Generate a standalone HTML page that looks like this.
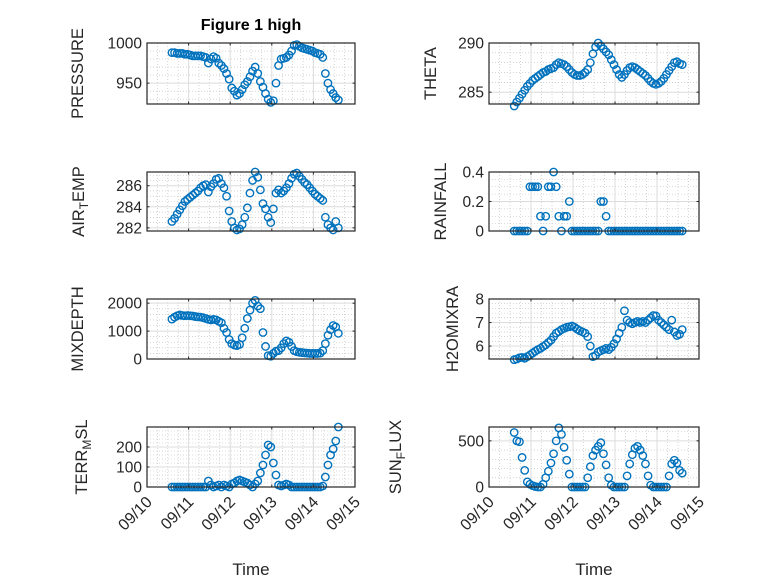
<!DOCTYPE html>
<html><head><meta charset="utf-8"><style>
body{margin:0;background:#fff}
svg{font-family:"Liberation Sans",sans-serif;display:block}
</style></head><body>
<svg id="fig" width="778" height="583" viewBox="0 0 778 583" xmlns="http://www.w3.org/2000/svg">
<rect width="778" height="583" fill="#fff"/>
<text x="251" y="30" text-anchor="middle" font-size="16" font-weight="bold" fill="#000">Figure 1 high</text>
</svg>
<script>
const tStart = 10.6;
const tStep = 0.0625;
const xTickLabels = ["09/10","09/11","09/12","09/13","09/14","09/15"];
const pressure = [988,988,987,987,987,986,986,985,984,984,984,984,983,982,975,980,983,981,975,972,968,962,955,944,940,935,937,942,948,952,958,965,970,962,952,945,937,930,926,928,950,972,980,981,982,985,990,997,998,996,994,993,992,991,990,988,987,986,982,962,950,942,937,932,929];
const airTemp = [282.6,282.9,283.3,283.7,284.1,284.5,284.7,284.9,285.1,285.3,285.5,285.8,286.0,286.1,285.4,285.9,286.2,286.6,286.7,286.2,285.8,285.0,283.6,282.6,282.0,281.8,281.9,282.3,283.0,283.9,285.3,286.5,287.3,286.8,285.6,284.3,283.8,283.0,282.5,283.8,285.3,285.6,285.3,285.5,285.8,286.2,286.7,287.1,287.2,286.9,286.6,286.3,286.1,285.8,285.5,285.2,285.0,284.8,284.6,283.0,282.3,282.0,281.8,282.6,282.0];
const mixDepth = [1430,1500,1550,1580,1560,1550,1560,1550,1540,1520,1510,1500,1480,1450,1420,1400,1420,1400,1350,1300,1100,950,700,550,500,480,520,760,1100,1450,1750,2000,2100,1900,1800,950,450,120,100,200,280,300,400,550,650,600,450,300,260,240,230,220,210,200,200,200,200,210,300,550,850,1050,1200,1150,920];
const terrMsl = [0,0,0,0,0,0,0,0,0,0,0,0,0,0,30,10,0,5,10,0,10,5,0,15,20,30,35,30,25,20,10,0,15,30,70,110,160,210,200,120,60,10,5,10,15,10,0,0,0,0,0,0,0,0,0,0,0,0,5,50,110,160,190,230,300];
const theta = [283.6,284.0,284.4,284.8,285.2,285.6,285.9,286.2,286.4,286.6,286.8,287.0,287.1,287.3,287.4,287.5,287.8,288.0,287.9,287.8,287.6,287.3,287.0,286.8,286.7,286.7,286.8,287.0,287.3,288.0,288.9,289.6,290.0,289.7,289.4,289.1,288.8,288.3,287.8,287.3,286.8,286.5,286.8,287.2,287.5,287.6,287.5,287.3,287.1,286.9,286.7,286.4,286.1,285.9,285.8,285.9,286.1,286.4,286.8,287.2,287.6,288.0,288.1,287.9,287.8];
const rainfall = [0,0,0,0,0,0,0.3,0.3,0.3,0.3,0.1,0,0.1,0.3,0.3,0.4,0.3,0.1,0,0.1,0.1,0.2,0,0,0,0,0,0,0,0,0,0,0,0.2,0.2,0.1,0,0,0,0,0,0,0,0,0,0,0,0,0,0,0,0,0,0,0,0,0,0,0,0,0,0,0,0,0];
const h2oMix = [5.42,5.45,5.5,5.52,5.48,5.55,5.62,5.7,5.78,5.85,5.9,5.98,6.05,6.15,6.25,6.4,6.55,6.62,6.7,6.75,6.8,6.82,6.85,6.8,6.72,6.65,6.6,6.55,6.4,6.0,5.55,5.6,5.75,5.8,5.85,5.9,5.85,5.95,6.1,6.3,6.55,6.8,7.5,7.1,7.0,6.95,7.0,7.05,7.0,7.05,7.0,7.1,7.2,7.3,7.28,7.1,7.0,6.9,6.8,6.7,7.1,6.6,6.45,6.5,6.7];
const sunFlux = [590,500,490,320,180,55,30,15,5,0,0,30,100,170,260,360,500,640,570,430,290,140,0,0,0,0,0,0,100,220,340,400,440,480,360,240,100,20,0,0,0,0,0,120,250,350,420,440,400,340,250,120,20,0,0,0,0,0,0,120,250,290,260,180,150];

const NS="http://www.w3.org/2000/svg";
const svg=document.getElementById('fig');
function mk(tag,attrs,parent){const e=document.createElementNS(NS,tag);for(const k in attrs)e.setAttribute(k,attrs[k]);(parent||svg).appendChild(e);return e;}

const panels=[
 {name:'pressure',data:pressure,x:147,y:43,w:208,h:61,ymin:924,ymax:1000,ticks:[950,1000],minor:10,label:['PRESSURE'],lx:78,last:false},
 {name:'theta',data:theta,x:489,y:43,w:210,h:61,ymin:283.8,ymax:290,ticks:[285,290],minor:1,label:['THETA'],lx:431,last:false},
 {name:'air-temp',data:airTemp,x:147,y:172,w:208,h:59,ymin:281.7,ymax:287.3,ticks:[282,284,286],minor:0.5,label:['AIR','T','EMP'],lx:79,last:false},
 {name:'rainfall',data:rainfall,x:489,y:172,w:210,h:59,ymin:0,ymax:0.4,ticks:[0,0.2,0.4],minor:0.05,label:['RAINFALL'],lx:441,last:false},
 {name:'mixdepth',data:mixDepth,x:147,y:299,w:208,h:60,ymin:0,ymax:2150,ticks:[0,1000,2000],minor:200,label:['MIXDEPTH'],lx:78,last:false},
 {name:'h2omixra',data:h2oMix,x:489,y:299,w:210,h:60,ymin:5.45,ymax:8,ticks:[6,7,8],minor:0.2,label:['H2OMIXRA'],lx:453,last:false},
 {name:'terr-msl',data:terrMsl,x:147,y:427,w:208,h:60,ymin:0,ymax:300,ticks:[0,100,200],minor:20,label:['TERR','M','SL'],lx:82,last:true},
 {name:'sun-flux',data:sunFlux,x:489,y:427,w:210,h:60,ymin:0,ymax:650,ticks:[0,500],minor:100,label:['SUN','F','LUX'],lx:396,last:true}
];

panels.forEach(p=>{
  const g=mk('g',{});
  
  
  const xs=d=>p.x+(d-10)/5*p.w;
  const ys=v=>p.y+p.h-(v-p.ymin)/(p.ymax-p.ymin)*p.h;
  mk('rect',{x:p.x,y:p.y,width:p.w,height:p.h,fill:'#fff'},g);
  for(let d=10;d<=15.001;d+=0.25){ if(Math.abs(d-Math.round(d))<1e-6)continue;
    mk('line',{x1:xs(d),x2:xs(d),y1:p.y,y2:p.y+p.h,stroke:'#bbb','stroke-width':0.6,'stroke-dasharray':'1,2'},g);}
  const start=Math.ceil(p.ymin/p.minor)*p.minor;
  for(let v=start;v<=p.ymax+1e-9;v+=p.minor){
    if(p.ticks.some(t=>Math.abs(t-v)<1e-6))continue;
    mk('line',{x1:p.x,x2:p.x+p.w,y1:ys(v),y2:ys(v),stroke:'#bbb','stroke-width':0.6,'stroke-dasharray':'1,2'},g);}
  for(let i=0;i<xTickLabels.length;i++){const d=10+i;
    mk('line',{x1:xs(d),x2:xs(d),y1:p.y,y2:p.y+p.h,stroke:'#dcdcdc','stroke-width':1},g);}
  p.ticks.forEach(v=>mk('line',{x1:p.x,x2:p.x+p.w,y1:ys(v),y2:ys(v),stroke:'#dcdcdc','stroke-width':1},g));
  const dg=mk('g',{},g);
  
  
  p.data.forEach((v,i)=>{
    const c=mk('circle',{cx:xs(tStart+i*tStep),cy:ys(v),r:3.7,fill:'none',stroke:'#0072BD','stroke-width':1.4},dg);
    
    
  });
  mk('rect',{x:p.x,y:p.y,width:p.w,height:p.h,fill:'none',stroke:'#262626','stroke-width':1.2},g);
  for(let i=0;i<xTickLabels.length;i++){const X=xs(10+i);
    mk('line',{x1:X,x2:X,y1:p.y+p.h,y2:p.y+p.h-2.5,stroke:'#262626'},g);
    mk('line',{x1:X,x2:X,y1:p.y,y2:p.y+2.5,stroke:'#262626'},g);
    if(p.last){
      const tx=X+6, ty=p.y+p.h+16;
      const t=mk('text',{x:tx,y:ty,'text-anchor':'end','font-size':16,fill:'#262626',transform:`rotate(-45 ${tx} ${ty})`},g);
      t.textContent=xTickLabels[i];
      
      
    }
  }
  p.ticks.forEach(v=>{
    mk('line',{x1:p.x,x2:p.x+2.5,y1:ys(v),y2:ys(v),stroke:'#262626'},g);
    mk('line',{x1:p.x+p.w,x2:p.x+p.w-2.5,y1:ys(v),y2:ys(v),stroke:'#262626'},g);
    const t=mk('text',{x:p.x-5,y:ys(v)+5.5,'text-anchor':'end','font-size':15.5,fill:'#262626'},g);
    t.textContent=String(v);
    
    
  });
  const cy=p.y+p.h/2;
  const yl=mk('text',{x:p.lx,y:cy,'text-anchor':'middle','dominant-baseline':'central','font-size':16.5,fill:'#262626',transform:`rotate(-90 ${p.lx} ${cy})`},g);
  
  
  if(p.label.length===1){yl.textContent=p.label[0];}
  else{
    const a=mk('tspan',{},yl);a.textContent=p.label[0];
    const b=mk('tspan',{dy:5,'font-size':12},yl);b.textContent=p.label[1];
    const c=mk('tspan',{dy:-5},yl);c.textContent=p.label[2];
  }
  if(p.last){
    const xl=mk('text',{x:p.x+p.w/2,y:575,'text-anchor':'middle','font-size':17,fill:'#262626'},g);
    xl.textContent='Time';
    
    
  }
});
</script>
</body></html>
